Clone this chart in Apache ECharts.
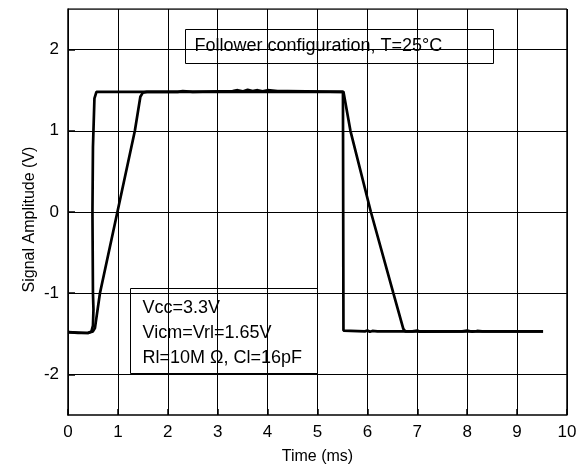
<!DOCTYPE html>
<html><head><meta charset="utf-8">
<script src="https://cdn.jsdelivr.net/npm/echarts@6/dist/echarts.min.js"></script>
<style>html,body{margin:0;padding:0;background:#fff}#c{width:587px;height:465px}</style>
</head><body><div id="c"></div>
<script>
const xTicks = [0,1,2,3,4,5,6,7,8,9,10];
const yTicks = [-2,-1,0,1,2];
const fastEdge = [[0,-1.48],[0.2,-1.49],[0.4,-1.49],[0.47,-1.47],[0.5,-1.4],[0.51,-1.2],[0.5,-1],[0.49,0],[0.5,0.8],[0.51,1],[0.53,1.4],[0.57,1.48],
  [2.2,1.48],[2.3,1.49],[2.5,1.48],[3.3,1.49],[3.4,1.5],[3.5,1.485],[3.6,1.505],[3.7,1.49],[3.8,1.5],[3.9,1.485],[4.0,1.5],[4.2,1.49],[4.4,1.49],[5.51,1.48],
  [5.52,-1.46],[5.95,-1.47],[6.0,-1.46],[6.05,-1.475],[6.1,-1.465],[6.2,-1.47],[6.9,-1.47],[7.0,-1.46],[7.05,-1.475],[7.9,-1.47],[8.0,-1.46],[8.1,-1.475],[8.2,-1.465],[8.3,-1.47],[9.52,-1.47]];
const slowEdge = [[0,-1.48],[0.4,-1.49],[0.5,-1.47],[0.54,-1.43],[0.64,-1],[0.99,0],[1.34,1],[1.45,1.42],[1.5,1.47],[1.58,1.48],[5.52,1.48],
  [5.66,1],[6.07,0],[6.52,-1],[6.72,-1.44],[6.76,-1.47],[9.52,-1.47]];
const noteTitle = 'Follower configuration, T=25°C';
const noteLines = ['Vcc=3.3V','Vicm=Vrl=1.65V','Rl=10M Ω, Cl=16pF'];

const FONT = 'Liberation Sans, Arial, sans-serif';
const chart = echarts.init(document.getElementById('c'), null, {renderer:'canvas'});
chart.setOption({
  animation:false,
  backgroundColor:'#fff',
  grid:{left:68,right:20,top:9,bottom:50,show:false,containLabel:false,outerBoundsMode:'none'},
  xAxis:{type:'value',min:0,max:10,interval:1,
    name:'Time (ms)',nameLocation:'middle',nameGap:34,nameMoveOverlap:false,
    nameTextStyle:{color:'#000',fontSize:16,fontFamily:FONT},
    axisLine:{show:true,onZero:false,lineStyle:{color:'#000',width:1.5}},
    axisTick:{show:true,inside:true,length:6,lineStyle:{color:'#000',width:1.5}},
    axisLabel:{color:'#000',fontSize:17,fontFamily:FONT,margin:9},
    splitLine:{show:true,lineStyle:{color:'#000',width:1}}
  },
  yAxis:{type:'value',min:-2.5,max:2.5,
    name:'Signal Amplitude (V)',nameLocation:'middle',nameGap:30,nameMoveOverlap:false,
    nameTextStyle:{color:'#000',fontSize:16,fontFamily:FONT,padding:[0,15,0,0]},
    axisLine:{show:true,onZero:false,lineStyle:{color:'#000',width:1.5}},
    axisTick:{show:true,inside:true,length:7,customValues:yTicks,lineStyle:{color:'#000',width:1.5}},
    axisLabel:{color:'#000',fontSize:17,fontFamily:FONT,margin:9,customValues:yTicks},
    splitLine:{show:true,lineStyle:{color:'#000',width:1}}
  },
  series:[
    {type:'line',data:slowEdge,showSymbol:false,lineStyle:{color:'#000',width:2.7},z:3},
    {type:'line',data:fastEdge,showSymbol:false,lineStyle:{color:'#000',width:2.7},z:3},
    {type:'line',data:[[0,2.5],[10,2.5]],showSymbol:false,silent:true,lineStyle:{color:'#000',width:1.5},z:2},
    {type:'line',data:[[10,-2.5],[10,2.5]],showSymbol:false,silent:true,lineStyle:{color:'#000',width:1.5},z:2}
  ],
  graphic:[
    {type:'group',left:185,top:29,z:100,children:[
      {type:'rect',shape:{x:0,y:0,width:308,height:34},style:{fill:'#fff',stroke:'#000',lineWidth:1}},
      {type:'text',x:9,y:17,style:{text:noteTitle,fill:'#000',font:'18px '+FONT,textVerticalAlign:'middle'}}
    ]},
    {type:'group',left:130,top:288,z:100,children:[
      {type:'rect',shape:{x:0,y:0,width:187,height:85},style:{fill:'#fff',stroke:'#000',lineWidth:1}},
      {type:'text',x:12,y:7,style:{text:noteLines.join('\n'),fill:'#000',font:'18px '+FONT,lineHeight:25}}
    ]}
  ]
});
</script></body></html>
